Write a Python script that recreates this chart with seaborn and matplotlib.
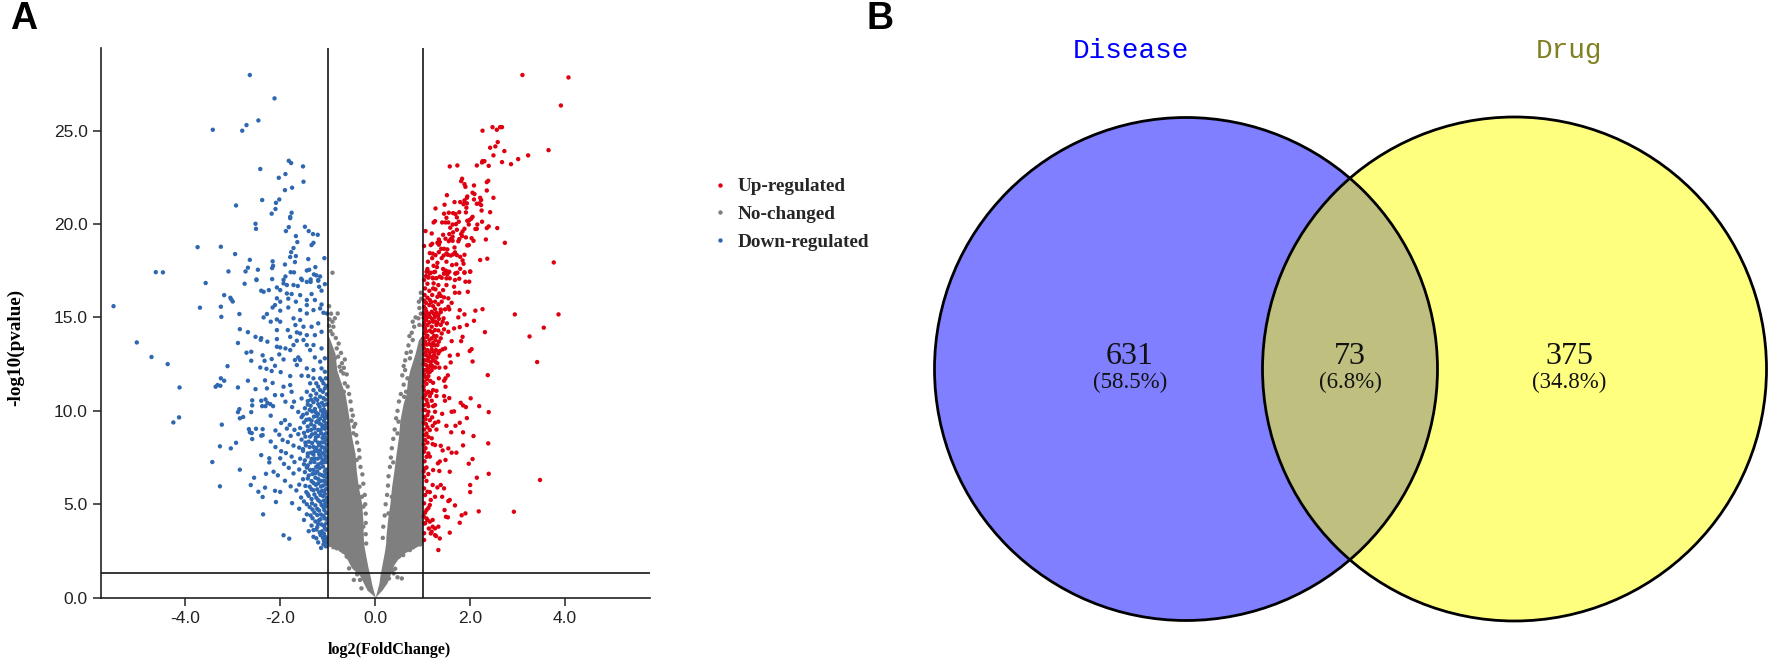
import matplotlib
matplotlib.use("Agg")
import matplotlib.pyplot as plt
from matplotlib.patches import Circle
import pandas as pd
import seaborn as sns

# ---------- Panel A values: (log2FC, -log10 p) ----------
down_pts = [(-2.64,27.97),(-2.12,26.72),(-2.46,25.54),(-2.71,25.29),(-2.80,24.99),(-3.42,25.04),(-1.82,23.38),(-1.77,23.26),(-1.52,23.08),(-2.42,22.94),(-2.03,22.47),(-1.89,22.67),(-1.51,22.26),(-1.75,21.94),(-1.90,21.81),(-2.02,21.31),(-2.38,21.28),(-2.93,20.99),(-2.09,21.13),(-2.10,20.80),(-2.18,20.55),(-1.76,20.60),(-1.79,20.38),(-1.79,20.31),(-2.52,20.01),(-2.51,19.74),(-1.82,19.83),(-1.88,19.62),(-1.48,19.85),(-1.40,19.62),(-1.31,19.46),(-1.21,19.42),(-1.67,19.35),(-1.64,19.03),(-1.30,18.99),(-1.34,18.87),(-1.72,18.71),(-1.77,18.49),(-3.74,18.76),(-3.25,18.78),(-2.95,18.39),(-1.79,18.23),(-1.67,18.28),(-1.41,18.12),(-1.07,18.17),(-2.64,18.08),(-2.16,18.0),(-1.69,17.96),(-2.15,17.76),(-2.17,17.64),(-1.90,17.83),(-2.68,17.66),(-2.73,17.46),(-2.47,17.55),(-3.09,17.46),(-4.62,17.42),(-4.47,17.41),(-1.78,17.42),(-1.71,17.41),(-1.44,17.51),(-1.39,17.55),(-1.26,17.69),(-1.29,17.30),(-1.24,17.25),(-1.16,17.19),(-1.89,17.19),(-2.50,17.03),(-2.17,17.05),(-1.93,17.01),(-1.56,17.07),(-1.36,17.03),(-1.20,17.0),
(-5.51,15.60),(-5.02,13.66),(-4.71,12.88),(-4.37,12.50),(-4.12,11.25),(-4.13,9.65),(-4.25,9.38),(-3.57,16.84),(-3.69,15.52),(-3.18,16.19),(-3.05,16.05),(-3.03,15.96),(-3.00,15.85),(-3.25,15.57),(-3.24,15.03),(-2.86,15.18),(-2.85,14.37),(-2.68,14.21),(-2.52,13.96),(-2.89,13.63),(-2.40,13.89),(-2.41,13.80),(-3.11,12.39),(-3.25,11.74),(-3.18,11.61),(-3.26,11.34),(-3.32,11.38),(-3.36,11.29),(-2.89,11.25),(-2.68,11.61),(-2.52,11.16),(-2.32,11.63),(-2.71,13.11),(-2.61,13.16),(-2.61,12.68),(-2.42,12.32),(-2.37,12.97),(-2.33,12.68),(-2.29,12.25),(-2.18,12.13),(-2.11,12.41),(-2.16,11.49),(-2.28,11.2),(-2.89,9.93),(-2.86,10.09),(-2.85,9.60),(-2.78,9.67),(-2.61,9.93),(-2.59,10.56),(-2.59,10.29),(-2.40,10.54),(-2.31,10.61),(-2.38,10.25),(-2.31,10.25),(-2.27,10.43),(-2.21,10.36),(-2.15,10.25),(-2.20,9.74),(-3.23,9.26),(-2.66,9.02),(-2.51,9.04),(-2.37,9.02),(-2.64,8.85),(-2.60,8.81),(-2.59,8.49),(-2.40,8.67),(-2.37,8.70),(-3.27,8.10),(-2.93,8.29),(-3.04,7.99),(-2.40,7.63),(-3.43,7.26),(-2.23,7.46),(-2.85,6.85),(-2.23,7.24),(-3.27,5.96),(-2.62,6.03),(-2.55,6.42),(-2.30,6.63),(-2.14,6.74),(-2.46,5.67),(-2.32,5.89),(-2.37,5.39),(-2.09,5.12),(-2.36,4.46),(-2.11,5.72),(-1.93,3.34),(-1.81,3.16),
(-2.75,16.80),(-2.50,17.0),(-2.40,16.43),(-2.35,16.37),(-2.24,16.46),(-2.07,16.6),(-2.0,16.46),(-1.93,16.82),(-1.86,16.73),(-1.72,16.73),(-1.63,16.68),(-1.54,17.0),(-1.44,16.9),(-1.36,16.9),(-1.2,16.96),(-1.06,16.78),(-1.18,16.64),(-1.13,16.43),(-1.34,16.25),(-1.58,16.19),(-1.76,16.25),(-1.86,16.28),(-2.07,16.02),(-2.0,15.84),(-1.83,16.0),(-1.67,15.84),(-1.44,15.93),(-1.27,15.93),(-1.13,15.69),(-1.16,15.48),(-1.3,15.39),(-1.44,15.66),(-1.58,15.39),(-1.83,15.53),(-2.0,15.36),(-2.11,15.66),(-2.16,15.53),(-2.28,15.18),(-2.35,15.0),(-2.07,14.89),(-2.0,14.77),(-2.2,14.77),(-1.72,14.95),(-1.58,14.86),(-1.44,15.21),(-1.09,15.25),(-1.02,15.21),(-1.2,14.68),(-1.34,14.5),(-1.51,14.5),(-1.68,14.59),(-1.65,14.2),(-1.84,14.32),(-2.07,14.32),(-1.13,14.23),(-1.27,14.05),(-1.44,14.05),(-1.58,14.14),(-1.79,13.96),(-2.07,13.84),(-2.27,13.7),(-1.65,13.75),(-1.51,13.79),(-1.72,13.52),(-2.07,13.43),(-2.0,13.39),(-1.89,13.34),(-1.44,13.52),(-1.30,13.52),(-1.13,13.34),(-1.37,13.25),(-1.79,13.25),(-1.62,12.86),(-2.02,13.02),(-2.18,12.77),(-1.93,12.75),(-1.69,12.72),(-1.58,12.72),(-1.27,12.86),(-1.06,12.81),(-1.16,12.63),(-1.65,12.45),(-1.44,12.27),(-1.3,12.18),(-1.13,12.27),(-1.06,12.09),(-1.99,12.07),(-1.79,11.86),(-1.55,11.88),(-1.41,11.86),(-1.3,11.74),(-1.16,11.74),(-1.04,11.74),(-1.24,11.47),(-1.09,11.47),(-1.37,11.47),(-1.79,11.38),(-1.93,11.29),(-1.44,11.02),(-1.3,11.11),(-1.16,11.11),(-1.06,11.2),(-1.55,10.66),(-2.11,10.84),(-1.96,10.84),(-1.76,11.02),(-1.89,10.49),(-1.71,10.49),
(-1.42,10.52),(-1.3,10.46),(-1.22,10.58),(-1.12,10.43),(-1.05,10.6),(-1.75,10.2),(-1.48,10.14),(-1.36,10.27),(-1.27,10.1),(-1.17,10.22),(-1.08,10.08),(-1.62,9.94),(-1.44,9.86),(-1.33,9.97),(-1.2,9.83),(-1.1,9.92),(-1.03,9.8),(-1.55,9.66),(-1.39,9.55),(-1.29,9.69),(-1.16,9.58),(-1.06,9.62),(-1.9,9.5),(-1.98,9.35),(-1.8,9.25),(-1.5,9.38),(-1.35,9.28),(-1.24,9.4),(-1.12,9.24),(-1.03,9.33),(-2.1,8.95),(-1.86,9.05),(-1.7,8.98),(-1.58,9.08),(-1.42,8.93),(-1.28,9.06),(-1.15,8.96),(-1.06,9.04),(-2.02,8.72),(-1.78,8.66),(-1.62,8.75),(-1.47,8.62),(-1.33,8.74),(-1.2,8.65),(-1.08,8.72),(-2.2,8.36),(-1.95,8.44),(-1.84,8.33),(-1.55,8.46),(-1.4,8.35),(-1.26,8.42),(-1.13,8.31),(-1.04,8.44),(-2.1,8.06),(-1.72,8.14),(-1.6,8.03),(-1.46,8.15),(-1.3,8.07),(-1.18,8.16),(-1.06,8.02),(-1.98,7.84),(-1.88,7.74),(-1.52,7.86),(-1.35,7.76),(-1.22,7.85),(-1.1,7.73),(-1.02,7.82),(-2.0,7.46),(-1.76,7.55),(-1.58,7.44),(-1.42,7.56),(-1.28,7.45),(-1.15,7.54),(-1.05,7.43),(-1.92,7.16),(-1.7,7.26),(-1.5,7.14),(-1.36,7.24),(-1.2,7.13),(-1.08,7.25),(-1.82,6.95),(-1.6,6.86),(-1.44,6.96),(-1.3,6.84),(-1.17,6.94),(-1.04,6.86),(-2.05,6.55),(-1.72,6.65),(-1.4,6.54),(-1.26,6.66),(-1.12,6.56),(-1.03,6.64),(-1.9,6.26),(-1.52,6.34),(-1.34,6.24),(-1.2,6.35),(-1.08,6.26),(-1.78,5.96),(-1.6,6.05),(-1.38,5.94),(-1.25,6.04),(-1.14,5.95),(-1.04,6.06),(-2.0,5.66),(-1.66,5.74),(-1.45,5.65),(-1.3,5.75),(-1.18,5.64),(-1.07,5.73),(-1.56,5.36),(-1.4,5.45),(-1.24,5.35),(-1.1,5.44),(-1.02,5.35),(-1.75,5.06),(-1.5,5.15),(-1.33,5.05),(-1.16,5.14),(-1.05,5.04),(-1.6,4.76),(-1.38,4.85),(-1.22,4.75),(-1.09,4.84),(-1.44,4.46),(-1.28,4.55),(-1.14,4.45),(-1.03,4.54),(-1.5,4.16),(-1.32,4.25),(-1.18,4.15),(-1.06,4.24),(-1.34,3.86),(-1.2,3.95),(-1.08,3.85),(-1.4,3.56),(-1.24,3.65),(-1.12,3.55),(-1.03,3.64),(-1.3,3.26),(-1.15,3.35),(-1.05,3.25),(-1.2,2.96),(-1.08,3.04),(-1.14,2.66),(-1.04,2.75)]

# Denser part of the down-regulated cloud beside the cut-off line
down_dense_pts = [(-1.12,11.62),(-1.2,11.3),(-1.03,11.34),(-1.1,11.02),(-1.24,10.92),(-1.36,10.82),(-1.02,10.88),(-1.16,10.76),(-1.09,10.68),(-1.26,10.66),(-1.35,10.6),(-1.02,10.35),(-1.08,10.3),(-1.2,10.36),(-1.42,10.33),(-1.14,10.02),(-1.25,9.92),(-1.38,10.05),(-1.05,9.95),(-1.52,9.78),(-1.23,9.72),(-1.11,9.74),(-1.02,9.64),(-1.34,9.48),(-1.45,9.52),(-1.2,9.49),(-1.08,9.46),(-1.28,9.18),(-1.17,9.32),(-1.42,9.16),(-1.06,9.18),(-1.02,9.08),(-1.35,8.98),(-1.2,8.98),(-1.11,9.09),(-1.5,8.82),(-1.26,8.8),(-1.14,8.8),(-1.03,8.8),(-1.37,8.62),(-1.25,8.58),(-1.11,8.55),(-1.06,8.6),(-1.47,8.3),(-1.33,8.28),(-1.2,8.3),(-1.08,8.32),(-1.02,8.2),(-1.38,8.06),(-1.24,8.02),(-1.12,8.06),(-1.52,7.95),(-1.28,7.84),(-1.16,7.88),(-1.05,7.9),(-1.42,7.72),(-1.3,7.66),(-1.18,7.68),(-1.06,7.62),(-1.02,7.55),(-1.34,7.42),(-1.21,7.44),(-1.11,7.38),(-1.48,7.35),(-1.28,7.26),(-1.14,7.2),(-1.04,7.26),(-1.42,7.08),(-1.24,7.0),(-1.1,7.02),(-1.37,6.84),(-1.22,6.76),(-1.06,6.76),(-1.48,6.72),(-1.32,6.62),(-1.17,6.6),(-1.08,6.5),(-1.02,6.42),(-1.26,6.42),(-1.42,6.38),(-1.14,6.25),(-1.3,6.14),(-1.04,6.2),(-1.2,6.12),(-1.1,6.0),(-1.47,5.98),(-1.34,5.8),(-1.22,5.8),(-1.03,5.82),(-1.12,5.72),(-1.42,5.55),(-1.28,5.52),(-1.15,5.5),(-1.06,5.56),(-1.34,5.28),(-1.2,5.22),(-1.08,5.2),(-1.02,5.14),(-1.44,5.0),(-1.26,4.94),(-1.13,4.96),(-1.04,4.88),(-1.32,4.72),(-1.18,4.66),(-1.07,4.68),(-1.22,4.42),(-1.09,4.38),(-1.36,4.4),(-1.15,4.2),(-1.02,4.22),(-1.26,4.08),(-1.13,3.92),(-1.03,3.98),(-1.22,3.78),(-1.06,3.72),(-1.3,3.62),(-1.17,3.5),(-1.08,3.42),(-1.24,3.18),(-1.02,3.12),(-1.1,3.2),(-1.03,2.95),(-1.09,2.85)]

up_pts = [(3.10,27.97),(4.07,27.84),(3.91,26.34),(2.26,24.99),(2.47,25.18),(2.56,25.04),(2.63,25.18),(2.67,25.18),(2.58,24.38),(2.53,24.15),(2.42,24.08),(2.72,23.9),(3.65,23.95),(2.49,23.67),(3.22,23.67),(3.01,23.47),(2.67,23.31),(2.86,23.2),(2.26,23.36),(2.30,23.36),(2.25,23.29),(2.14,23.13),(2.39,23.11),(1.57,23.08),(1.73,23.13),(1.83,22.42),(1.81,22.29),(2.38,22.31),(2.35,22.24),(1.88,22.13),(1.90,21.99),(2.08,22.06),(2.35,21.79),(2.05,21.67),(2.09,21.6),(1.51,21.54),(1.94,21.47),(1.93,21.4),(2.21,21.4),(2.23,21.28),(2.49,21.4),(2.08,21.31),(1.88,21.26),(1.67,21.17),(1.79,21.17),(1.46,21.03),(1.86,21.06),(1.93,21.1),(2.14,21.08),(2.19,21.1),(2.23,21.01),(1.92,20.87),(1.27,20.83),(2.24,20.72),(2.42,20.63),(1.45,20.55),(1.55,20.6),(1.64,20.58),(1.69,20.53),(1.77,20.63),(1.91,20.62),(1.72,20.35),(1.50,20.33),(2.05,20.38),(2.02,20.28),(1.98,20.2),(1.94,20.17),(1.26,20.15),(1.23,20.08),(1.41,20.08),(1.48,20.08),(1.54,20.08),(1.76,20.12),(1.63,19.97),(1.70,19.99),(1.97,19.97),(2.15,19.97),(2.25,20.12),(2.39,19.87),(2.35,19.78),(2.57,19.78),(2.14,19.74),(2.11,19.73),(1.88,19.74),(1.84,19.6),(1.58,19.8),(1.72,19.69),(1.06,19.62),(1.19,19.49),(1.43,19.42),(1.56,19.46),(1.64,19.55),(1.81,19.46),(1.83,19.35),(2.73,18.99),(2.33,19.17),(1.91,19.28),(2.03,19.24),(2.07,19.1),(1.59,19.19),(1.34,19.17),(1.48,19.21),(1.63,19.31),(1.36,19.03),(1.31,18.99),(1.55,19.08),(1.63,19.1),(1.77,19.19),(1.75,19.07),(1.94,18.85),(1.97,18.87),(1.03,18.82),(1.17,18.87),(1.20,18.94),(1.34,18.89),(1.67,18.74),(1.39,18.67),(1.45,18.67),(1.52,18.64),(3.76,17.94),(2.21,18.07),(2.36,18.14),(1.15,18.44),(1.21,18.41),(1.27,18.33),(1.34,18.49),(1.50,18.42),(1.68,18.48),(1.64,18.37),(1.72,18.33),(1.79,18.24),(1.88,18.35),(1.20,18.17),(1.40,18.17),(1.44,18.31),(1.53,18.35),(1.59,18.31),(1.11,17.98),(1.31,17.92),(1.50,17.98),(1.84,18.05),(1.86,17.87),(1.62,17.8),(1.71,17.84),(1.23,17.76),(1.30,17.69),(1.10,17.59),(1.10,17.5),(1.24,17.42),(1.15,17.35),(1.07,17.21),(1.12,17.14),(1.21,17.12),(1.29,17.1),(1.43,17.59),(1.49,17.5),(1.45,17.35),(1.56,17.44),(1.52,17.3),(1.69,17.35),(1.73,17.39),(1.79,17.6),(1.88,17.41),(2.0,17.46),(1.57,17.09),(1.40,17.12),(1.77,17.07),
(3.86,15.16),(2.94,15.16),(3.55,14.45),(3.25,13.98),(3.41,12.61),(2.37,11.91),(2.31,14.21),(2.26,15.44),(2.11,15.36),(1.88,15.16),(1.78,15.39),(1.75,15.0),(2.08,14.82),(1.93,14.59),(1.78,14.48),(1.66,14.41),(1.84,13.96),(1.81,13.73),(1.61,13.73),(2.03,13.3),(1.99,13.2),(1.74,13.0),(1.57,12.95),(2.05,12.64),(1.59,12.59),(1.48,12.32),(1.53,11.9),(1.48,11.74),(1.45,11.61),(1.34,11.74),(1.48,11.29),(2.01,10.67),(1.45,10.79),(1.56,10.68),(1.47,10.54),(2.19,10.25),(1.80,10.43),(1.85,10.29),(1.91,10.2),(2.39,9.93),(1.61,9.95),(1.66,9.97),(1.41,9.84),(1.93,9.61),(1.78,9.36),(1.69,9.2),(1.50,9.2),(1.85,8.85),(1.60,8.85),(2.07,8.65),(2.38,8.26),(1.85,8.15),(1.38,8.13),(1.54,7.99),(1.42,7.88),(1.71,7.76),(1.61,7.76),(2.05,7.42),(1.97,7.17),(1.48,7.37),(1.36,7.29),(1.32,7.19),(1.57,6.74),(2.39,6.63),(3.47,6.3),(2.14,6.42),(1.35,6.78),(1.22,6.83),(1.08,6.97),(2.0,6.03),(2.0,5.65),(1.21,6.03),(1.31,5.9),(1.38,6.03),(1.45,5.85),(1.41,5.4),(1.26,5.4),(1.57,5.23),(1.54,5.17),(1.68,4.94),(1.46,4.69),(2.18,4.62),(2.92,4.6),(1.90,4.51),(1.82,4.41),(1.49,4.33),(1.53,4.3),(1.12,4.8),(1.21,4.16),(1.78,4.01),(1.33,3.8),(1.21,3.8),(1.19,3.53),(1.57,3.48),(1.26,3.35),(1.36,3.17),(1.08,4.69),(1.15,4.96),(1.05,3.98),(1.17,3.44),(1.28,3.3),(1.33,2.55),(1.03,3.09),(1.10,4.16),(1.26,3.71),
(1.08,17.44),(1.17,17.39),(1.26,17.44),(1.45,17.35),(1.54,17.44),(1.69,17.35),(1.88,17.39),(2.0,17.44),(1.12,17.14),(1.22,17.09),(1.36,17.18),(1.5,17.09),(1.68,17.0),(1.90,16.91),(1.98,16.91),(1.23,16.82),(1.33,16.73),(1.5,16.73),(1.66,16.64),(1.22,16.55),(1.43,16.46),(1.68,16.32),(1.95,16.37),(1.77,16.32),(1.35,16.28),(1.31,16.1),(1.45,16.07),(1.54,16.02),(1.15,15.93),(1.07,15.78),(1.26,15.84),(1.4,15.84),(1.61,15.78),(1.03,15.57),(1.14,15.66),(1.22,15.6),(1.54,15.57),(1.47,15.43),(1.56,15.43),(1.08,15.3),(1.19,15.3),(1.29,15.25),(1.05,15.12),(1.15,15.03),(1.26,15.03),(1.33,15.12),(1.07,14.86),(1.22,14.77),(1.31,14.71),(1.42,14.77),(1.51,14.68),(1.1,14.59),(1.19,14.5),(1.29,14.59),(1.05,14.41),(1.15,14.29),(1.26,14.32),(1.45,14.36),(1.54,14.23),(1.03,14.14),(1.08,13.96),(1.19,13.88),(1.29,14.0),(1.38,13.88),(1.05,13.7),(1.14,13.57),(1.22,13.64),(1.31,13.52),(1.03,13.34),(1.1,13.25),(1.19,13.29),(1.28,13.25),(1.42,13.29),(1.47,13.34),(1.07,12.98),(1.15,12.93),(1.24,12.98),(1.33,13.07),(1.03,12.72),(1.12,12.68),(1.22,12.72),(1.31,12.54),(1.35,12.31),(1.07,12.45),(1.15,12.4),(1.26,12.32),(1.03,12.18),(1.1,12.09),(1.19,12.18),(1.05,11.82),(1.12,11.86),(1.03,11.56),(1.22,11.11),(1.12,11.02),(1.29,11.07),(1.05,10.84),(1.15,10.79),(1.29,10.79),(1.08,10.58),(1.19,10.54),(1.03,10.31),(1.12,10.25),(1.26,10.31),(1.05,10.04),(1.1,9.77),(1.26,9.95),(1.03,9.68),(1.15,9.5),(1.26,9.36),(1.33,9.42),(1.07,9.29),(1.03,9.0),(1.15,8.97),(1.29,9.0),(1.08,8.79),(1.19,8.53),(1.05,8.44),(1.21,8.22),(1.26,8.17),(1.03,7.81),(1.12,7.72),(1.08,7.54),(1.05,6.92),(1.12,6.62),(1.03,6.47),(1.1,5.67),(1.05,5.49),(1.17,5.23),(1.03,5.05),(1.08,4.24),(1.03,3.98),(1.15,4.07)]

# Denser part of the up-regulated cloud beside the cut-off line
up_dense_pts = [(1.03,17.0),(1.1,16.8),(1.05,16.55),(1.14,16.42),(1.27,16.5),(1.04,16.2),(1.2,16.2),(1.1,16.05),(1.38,16.15),(1.03,15.9),(1.18,15.82),(1.33,15.7),(1.06,15.45),(1.26,15.45),(1.38,15.42),(1.02,15.22),(1.13,15.18),(1.23,15.2),(1.38,15.28),(1.02,14.98),(1.09,15.0),(1.2,14.92),(1.34,14.92),(1.44,14.95),(1.03,14.7),(1.14,14.74),(1.26,14.78),(1.38,14.6),(1.02,14.55),(1.07,14.25),(1.2,14.2),(1.33,14.3),(1.4,14.14),(1.1,14.02),(1.24,14.0),(1.02,13.88),(1.14,13.8),(1.27,13.78),(1.34,13.7),(1.09,13.55),(1.19,13.48),(1.26,13.5),(1.02,13.52),(1.07,13.15),(1.15,13.12),(1.24,13.14),(1.36,13.2),(1.03,13.02),(1.12,12.86),(1.2,12.84),(1.29,12.85),(1.07,12.7),(1.17,12.6),(1.27,12.62),(1.02,12.5),(1.12,12.3),(1.2,12.4),(1.07,12.2),(1.15,12.08),(1.03,11.95),(1.09,11.7),(1.02,11.3),(1.08,11.45),(1.16,11.6),(1.22,11.5),(1.03,11.1),(1.08,10.95),(1.18,10.95),(1.02,10.7),(1.1,10.4),(1.22,10.25),(1.02,10.05),(1.12,9.95),(1.06,9.55),(1.2,9.65),(1.02,9.35),(1.1,9.12),(1.21,9.2),(1.04,8.7),(1.12,8.6),(1.02,8.2),(1.1,8.3),(1.06,8.0),(1.04,7.3),(1.15,7.55),(1.02,6.75),(1.08,6.25),(1.03,5.85),(1.15,5.65),(1.05,4.55),(1.02,4.35),(1.13,3.7),(1.03,3.45)]

# Individually visible grey points around the dense cloud
nochange_pts = [(-0.90,17.39),(-0.79,15.21),(-0.85,14.95),(-0.90,14.77),(-0.94,14.27),(-0.81,13.34),(-0.64,12.75),(-0.85,12.81),(-0.75,12.36),(-0.67,12.0),(-0.72,12.13),(-0.64,11.47),(-0.66,11.02),(-0.50,9.47),(-0.45,9.15),(-0.46,8.8),(-0.39,7.37),(-0.33,5.94),(-0.28,5.4),(-0.25,4.87),(-0.25,3.8),
(0.96,16.32),(0.92,15.84),(0.79,14.77),(0.91,14.95),(0.77,14.18),(0.79,13.79),(0.75,13.16),(0.73,12.81),(0.63,12.18),(0.68,11.74),(0.65,11.02),(0.61,10.75),(0.49,9.42),(0.47,8.79),(0.38,7.24),(0.35,5.4),(0.28,4.51),
(-0.55,1.57),(-0.45,0.95),(-0.32,0.95),(-0.29,0.5),(0.29,1.03),(0.47,1.09),(0.56,1.03),(0.35,1.48),(0.31,1.75),(-0.67,2.46),(-0.81,2.64),(-0.95,2.82),(0.59,2.28),(0.73,2.55),(0.87,2.82),
(-0.97,15.6),(-0.93,15.2),(-0.96,14.9),(-0.88,14.5),(-0.97,14.55),(-0.9,14.1),(-0.83,13.9),(-0.77,13.6),(-0.72,13.1),(-0.78,12.9),(-0.7,12.55),(-0.66,12.3),(-0.6,11.95),(-0.58,11.3),(-0.55,10.9),(-0.52,10.5),(-0.5,10.05),(-0.47,9.75),(-0.42,9.3),(-0.4,8.7),(-0.38,8.3),(-0.34,7.9),(-0.33,7.5),(-0.31,7.0),(-0.27,6.6),(-0.25,6.1),(-0.22,5.5),(-0.21,5.0),(-0.2,4.5),(-0.2,4.0),(-0.2,3.4),(-0.19,2.9),(-0.6,2.2),(-0.72,2.55),(-0.88,2.7),(-0.48,1.95),(-0.42,1.7),(-0.38,1.25),
(0.97,16.0),(0.93,15.5),(0.96,15.2),(0.85,15.0),(0.82,14.5),(0.93,14.6),(0.72,14.0),(0.7,13.5),(0.66,13.1),(0.63,12.7),(0.6,12.4),(0.57,11.9),(0.6,11.4),(0.54,10.9),(0.5,10.5),(0.47,10.0),(0.44,9.6),(0.41,9.0),(0.38,8.5),(0.35,8.0),(0.33,7.5),(0.31,7.0),(0.28,6.5),(0.27,6.0),(0.25,5.5),(0.22,5.0),(0.2,4.4),(0.17,3.8),(0.16,3.2),(0.5,2.2),(0.42,2.0),(0.55,2.5),(0.8,2.7),(0.95,2.85),(0.42,1.55),(0.39,1.3)]

# Edges of the solid grey cloud at each -log10(p) level
band_y        = [0.03,0.40,0.80,1.20,1.60,2.00,2.40,2.90,3.26,4.16,5.05,5.94,6.83,7.72,8.60,9.50,10.4,10.9,11.65,12.2,13.07,13.8,14.1]
left_outer_x  = [0,-0.17,-0.25,-0.33,-0.50,-0.58,-0.68,-1,-1,-1,-1,-1,-1,-1,-1,-1,-1,-1,-1,-1,-1,-1,-1]
left_inner_x  = [0,-0.04,-0.08,-0.11,-0.15,-0.18,-0.21,-0.245,-0.25,-0.26,-0.285,-0.355,-0.40,-0.425,-0.495,-0.545,-0.60,-0.635,-0.74,-0.81,-0.845,-0.95,-1]
right_inner_x = [0,0.04,0.08,0.10,0.13,0.16,0.19,0.22,0.225,0.26,0.31,0.345,0.395,0.44,0.49,0.52,0.59,0.65,0.68,0.73,0.84,0.91,1]
right_outer_x = [0,0.14,0.25,0.31,0.36,0.45,0.62,1,1,1,1,1,1,1,1,1,1,1,1,1,1,1,1]

x_ticks = [-4, -2, 0, 2, 4]
y_ticks = [0, 5, 10, 15, 20, 25]
fc_cut = 1.0
p_cut = 1.3
group_names = ["Up-regulated", "No-changed", "Down-regulated"]

# ---------- Panel B values ----------
venn_sets = ["Disease", "Drug"]
venn_counts = [631, 73, 375]
venn_shares = ["(58.5%)", "(6.8%)", "(34.8%)"]

# ---------- Layout ----------
W, H = 1772, 665
RED, GREY, BLUE = "#DE0010", "#7F7F7F", "#2F68B0"
sns.set_theme(style="white")
plt.rcParams["font.family"] = ["Liberation Sans", "DejaVu Sans"]

fig = plt.figure(figsize=(W / 100, H / 100), dpi=100)
ax = fig.add_axes([100.7 / W, 1 - 597.7 / H, 549 / W, 549.4 / H])

df = pd.concat([
    pd.DataFrame(nochange_pts, columns=["fc", "p"]).assign(group=group_names[1]),
    pd.DataFrame(down_pts + down_dense_pts, columns=["fc", "p"]).assign(group=group_names[2]),
    pd.DataFrame(up_pts + up_dense_pts, columns=["fc", "p"]).assign(group=group_names[0]),
], ignore_index=True)

ax.fill_betweenx(band_y, left_outer_x, left_inner_x, color=GREY, lw=0, zorder=1)
ax.fill_betweenx(band_y, right_inner_x, right_outer_x, color=GREY, lw=0, zorder=1)
sns.scatterplot(data=df, x="fc", y="p", hue="group", hue_order=group_names,
                palette=[RED, GREY, BLUE], s=10, linewidth=0, ax=ax, zorder=2)

ax.set_xlim(-5.78, 5.78)
ax.set_ylim(0, 29.4)
for v in (-fc_cut, fc_cut):
    ax.axvline(v, color="#151515", lw=1.2, zorder=3)
ax.axhline(p_cut, color="#151515", lw=1.2, zorder=3)

ax.set_xticks(x_ticks, [f"{v:.1f}" for v in x_ticks])
ax.set_yticks(y_ticks, [f"{v:.1f}" for v in y_ticks])
ax.tick_params(axis="both", direction="out", length=5.5, width=1.1, color="#222222",
               labelsize=12.5, labelcolor="#222222", pad=4, bottom=True, left=True)
sns.despine(ax=ax)
for s in ("left", "bottom"):
    ax.spines[s].set_linewidth(1.2)
    ax.spines[s].set_color("#222222")

serif_bold = dict(family="Liberation Serif", fontweight="bold", color="black")
ax.set_xlabel("")
ax.set_ylabel("")
fig.text(389 / W, 1 - 650 / H, "log2(FoldChange)", ha="center", va="center", fontsize=11.6, **serif_bold)
fig.text(16 / W, 1 - 347 / H, "-log10(pvalue)", ha="center", va="center", rotation=90, fontsize=13.8, **serif_bold)

handles, labels = ax.get_legend_handles_labels()
ax.legend(handles, labels, loc="upper left", bbox_to_anchor=(710.5 / W, 1 - 178 / H),
          bbox_transform=fig.transFigure, frameon=False, borderpad=0, borderaxespad=0,
          handlelength=1.0, handletextpad=0.4, labelspacing=0.53,
          prop=dict(family="Liberation Serif", weight="bold", size=13.8))

fig.text(24 / W, 1 - 29 / H, "A", ha="center", va="baseline", fontsize=27, fontweight="bold", color="black")
fig.text(880 / W, 1 - 29 / H, "B", ha="center", va="baseline", fontsize=27, fontweight="bold", color="black")

# ---------- Panel B ----------
bx = fig.add_axes([0, 0, 1, 1], zorder=-1)
bx.set_xlim(0, W)
bx.set_ylim(H, 0)
bx.axis("off")
bx.add_patch(Circle((1186, 369), 251.5, facecolor=(0, 0, 1, 0.5), edgecolor="none"))
bx.add_patch(Circle((1514.5, 369), 252, facecolor=(1, 1, 0, 0.5), edgecolor="none"))
bx.add_patch(Circle((1186, 369), 251.5, fill=False, edgecolor="black", lw=2))
bx.add_patch(Circle((1514.5, 369), 252, fill=False, edgecolor="black", lw=2))

for cx, name, col in zip((1131, 1569), venn_sets, ("#0000FF", "#808020")):
    bx.text(cx, 51, name, ha="center", va="center", color=col, fontsize=20, family="Liberation Mono")
for cx, n, share in zip((1130, 1350, 1569), venn_counts, venn_shares):
    bx.text(cx, 357, str(n), ha="center", va="center", color="#111111", fontsize=23, family="Liberation Serif")
    bx.text(cx, 382, share, ha="center", va="center", color="#111111", fontsize=16.5, family="Liberation Serif")

fig.savefig("out.png", dpi=100, facecolor="white")
